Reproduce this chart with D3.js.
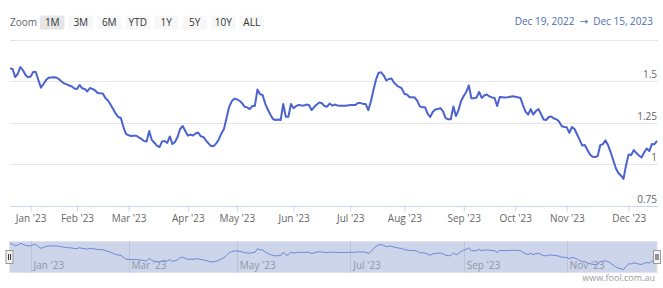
<!DOCTYPE html>
<html>
<head>
  <meta charset="utf-8">
  <title>Share price, Dec 2022 - Dec 2023</title>
  <style>
    body { margin: 0; background: #fff; }
    svg { display: block; font-family: "Open Sans", "DejaVu Sans", sans-serif; }
  </style>
</head>
<body>
  <script src="https://cdn.jsdelivr.net/npm/d3@7/dist/d3.min.js"></script>
  <script>
    // closing price, one value per trading day (19 Dec 2022 .. 15 Dec 2023)
    var prices = [
      1.576, 1.572, 1.524, 1.542, 1.584, 1.566, 1.536, 1.522, 1.527, 1.554,
      1.554, 1.506, 1.460, 1.482, 1.506, 1.520, 1.521, 1.522, 1.521, 1.512,
      1.497, 1.486, 1.480, 1.473, 1.467, 1.455, 1.452, 1.476, 1.456, 1.452,
      1.437, 1.458, 1.452, 1.443, 1.428, 1.426, 1.425, 1.398, 1.383, 1.358,
      1.331, 1.304, 1.283, 1.277, 1.223, 1.181, 1.173, 1.169, 1.170, 1.170,
      1.160, 1.151, 1.139, 1.136, 1.199, 1.145, 1.128, 1.111, 1.102, 1.136,
      1.139, 1.127, 1.166, 1.120, 1.133, 1.163, 1.211, 1.229, 1.199, 1.172,
      1.177, 1.172, 1.184, 1.190, 1.167, 1.163, 1.143, 1.124, 1.108, 1.108,
      1.124, 1.148, 1.184, 1.211, 1.277, 1.343, 1.377, 1.394, 1.390, 1.381,
      1.367, 1.345, 1.341, 1.331, 1.349, 1.350, 1.449, 1.420, 1.416, 1.364,
      1.328, 1.298, 1.271, 1.265, 1.268, 1.265, 1.361, 1.285, 1.285, 1.361,
      1.336, 1.349, 1.356, 1.352, 1.352, 1.358, 1.355, 1.325, 1.343, 1.358,
      1.371, 1.366, 1.349, 1.345, 1.364, 1.352, 1.358, 1.353, 1.351, 1.351,
      1.351, 1.353, 1.355, 1.355, 1.355, 1.367, 1.367, 1.362, 1.361, 1.325,
      1.377, 1.446, 1.509, 1.550, 1.552, 1.533, 1.503, 1.512, 1.515, 1.490,
      1.474, 1.464, 1.455, 1.422, 1.419, 1.402, 1.402, 1.401, 1.380, 1.347,
      1.342, 1.342, 1.304, 1.283, 1.313, 1.328, 1.331, 1.337, 1.317, 1.277,
      1.269, 1.269, 1.346, 1.289, 1.325, 1.380, 1.410, 1.434, 1.473, 1.396,
      1.396, 1.401, 1.434, 1.398, 1.413, 1.419, 1.407, 1.401, 1.398, 1.349,
      1.404, 1.402, 1.400, 1.402, 1.405, 1.408, 1.405, 1.402, 1.398, 1.355,
      1.316, 1.298, 1.331, 1.298, 1.319, 1.331, 1.301, 1.268, 1.265, 1.283,
      1.286, 1.274, 1.269, 1.256, 1.229, 1.223, 1.221, 1.187, 1.223, 1.211,
      1.178, 1.145, 1.111, 1.114, 1.084, 1.057, 1.043, 1.042, 1.048, 1.114,
      1.120, 1.142, 1.114, 1.072, 1.024, 0.976, 0.946, 0.931, 0.910, 0.994,
      1.057, 1.054, 1.084, 1.066, 1.051, 1.039, 1.069, 1.093, 1.078, 1.120,
      1.119, 1.139
    ];

    // month ticks (trading day index of first session of the month)
    var monthTickIdx = [8, 26, 46, 69, 88, 110, 132, 153, 176, 196, 216, 240];
    var monthLabels = ["Jan '23", "Feb '23", "Mar '23", "Apr '23", "May '23", "Jun '23",
                       "Jul '23", "Aug '23", "Sep '23", "Oct '23", "Nov '23", "Dec '23"];
    var navTickIdx = [8, 46, 88, 132, 176, 216];
    var navLabels = ["Jan '23", "Mar '23", "May '23", "Jul '23", "Sep '23", "Nov '23"];

    var yTicks = [0.75, 1, 1.25, 1.5, 1.75];
    var yLabels = ["0.75", "1", "1.25", "1.5", ""];

    var buttons = ["1M", "3M", "6M", "YTD", "1Y", "5Y", "10Y", "ALL"];
    var selectedButton = "1M";
    var rangeText = "Dec 19, 2022  \u2192  Dec 15, 2023";

    var w = 663, h = 288;
    var left = 10, right = 657;
    var lineColor = "#4b63d1";
    var fs = 10;

    var svg = d3.select("body").append("svg")
      .attr("width", w)
      .attr("height", h);

    var x = d3.scaleLinear().domain([0, prices.length - 1]).range([left, right]);
    var y = d3.scaleLinear().domain([0.75, 1.75]).range([205.5, 39.5]);

    // range selector
    svg.append("text")
      .attr("x", 10).attr("y", 26)
      .attr("font-size", fs).attr("fill", "#666")
      .text("Zoom");

    var btn = svg.selectAll("g.btn").data(buttons).enter().append("g")
      .attr("class", "btn")
      .attr("transform", function(d, i) { return "translate(" + (40 + i * 28.5) + ",15.5)"; });
    btn.append("rect")
      .attr("width", 24.5).attr("height", 14).attr("rx", 1)
      .attr("fill", function(d) { return d == selectedButton ? "#e6e6e6" : "#f7f7f7"; });
    btn.append("text")
      .attr("x", 12.25).attr("y", 10.5)
      .attr("text-anchor", "middle")
      .attr("font-size", fs).attr("fill", "#333")
      .text(function(d) { return d; });

    svg.append("text")
      .attr("x", 653).attr("y", 25)
      .attr("text-anchor", "end")
      .attr("font-size", fs).attr("fill", "#4a6cb3")
      .attr("xml:space", "preserve")
      .text(rangeText);

    // grid lines + y labels
    svg.selectAll("line.grid").data(yTicks).enter().append("line")
      .attr("x1", left).attr("x2", right + 1)
      .attr("y1", function(d) { return Math.round(y(d)) + 0.5; })
      .attr("y2", function(d) { return Math.round(y(d)) + 0.5; })
      .attr("stroke", function(d) { return d == 0.75 ? "#ccd6eb" : "#e6e6e6"; });

    svg.selectAll("text.ylab").data(yTicks).enter().append("text")
      .attr("x", right).attr("y", function(d) { return y(d) - 3; })
      .attr("text-anchor", "end")
      .attr("font-size", fs).attr("fill", "#666")
      .text(function(d, i) { return yLabels[i]; });

    // x axis
    var xAxis = d3.axisBottom(x)
      .tickValues(monthTickIdx)
      .tickSize(6)
      .tickFormat(function(d, i) { return monthLabels[i]; });
    var gx = svg.append("g")
      .attr("transform", "translate(0,205.5)")
      .call(xAxis);
    gx.select(".domain").remove();
    gx.selectAll(".tick line").attr("stroke", "#ccd6eb");
    gx.selectAll(".tick text")
      .attr("y", 9)
      .attr("font-size", fs).attr("fill", "#666")
      .attr("font-family", "Open Sans, DejaVu Sans, sans-serif");

    // price line
    var line = d3.line()
      .x(function(d, i) { return x(i); })
      .y(function(d) { return y(d); });
    svg.append("path")
      .datum(prices)
      .attr("d", line)
      .attr("fill", "none")
      .attr("stroke", lineColor)
      .attr("stroke-width", 2)
      .attr("stroke-linejoin", "round");

    // navigator
    var navTop = 241.5, navBottom = 272.5;
    var ny = d3.scaleLinear()
      .domain([d3.min(prices), d3.max(prices)])
      .range([269.5, 243.5]);

    svg.append("rect")
      .attr("x", 9.5).attr("y", navTop)
      .attr("width", right - 9.5).attr("height", navBottom - navTop)
      .attr("fill", "#ccd5ea")
      .attr("stroke", "#dfe3ee");

    svg.selectAll("line.navgrid").data(navTickIdx).enter().append("line")
      .attr("x1", function(d) { return Math.round(x(d)) + 0.5; })
      .attr("x2", function(d) { return Math.round(x(d)) + 0.5; })
      .attr("y1", navTop).attr("y2", navBottom)
      .attr("stroke", "#b9c3dc");

    svg.selectAll("text.navlab").data(navTickIdx).enter().append("text")
      .attr("x", function(d) { return x(d) + 3; })
      .attr("y", 269)
      .attr("font-size", fs).attr("fill", "#8e95a6")
      .text(function(d, i) { return navLabels[i]; });

    var navLine = d3.line()
      .x(function(d, i) { return x(i); })
      .y(function(d) { return ny(d); });
    svg.append("path")
      .datum(prices)
      .attr("d", navLine)
      .attr("fill", "none")
      .attr("stroke", "#6f86d6")
      .attr("stroke-width", 1);

    // handles
    [9.5, right].forEach(function(hx) {
      var g = svg.append("g").attr("transform", "translate(" + hx + ",257)");
      g.append("rect")
        .attr("x", -3.5).attr("y", -6.5).attr("width", 7).attr("height", 13)
        .attr("fill", "#f2f2f2").attr("stroke", "#999");
      g.append("line").attr("x1", -1).attr("x2", -1).attr("y1", -3).attr("y2", 3).attr("stroke", "#333");
      g.append("line").attr("x1", 1).attr("x2", 1).attr("y1", -3).attr("y2", 3).attr("stroke", "#333");
    });

    // credits
    svg.append("text")
      .attr("x", 655).attr("y", 281)
      .attr("text-anchor", "end")
      .attr("font-size", 9).attr("fill", "#999")
      .text("www.fool.com.au");
  </script>
</body>
</html>
